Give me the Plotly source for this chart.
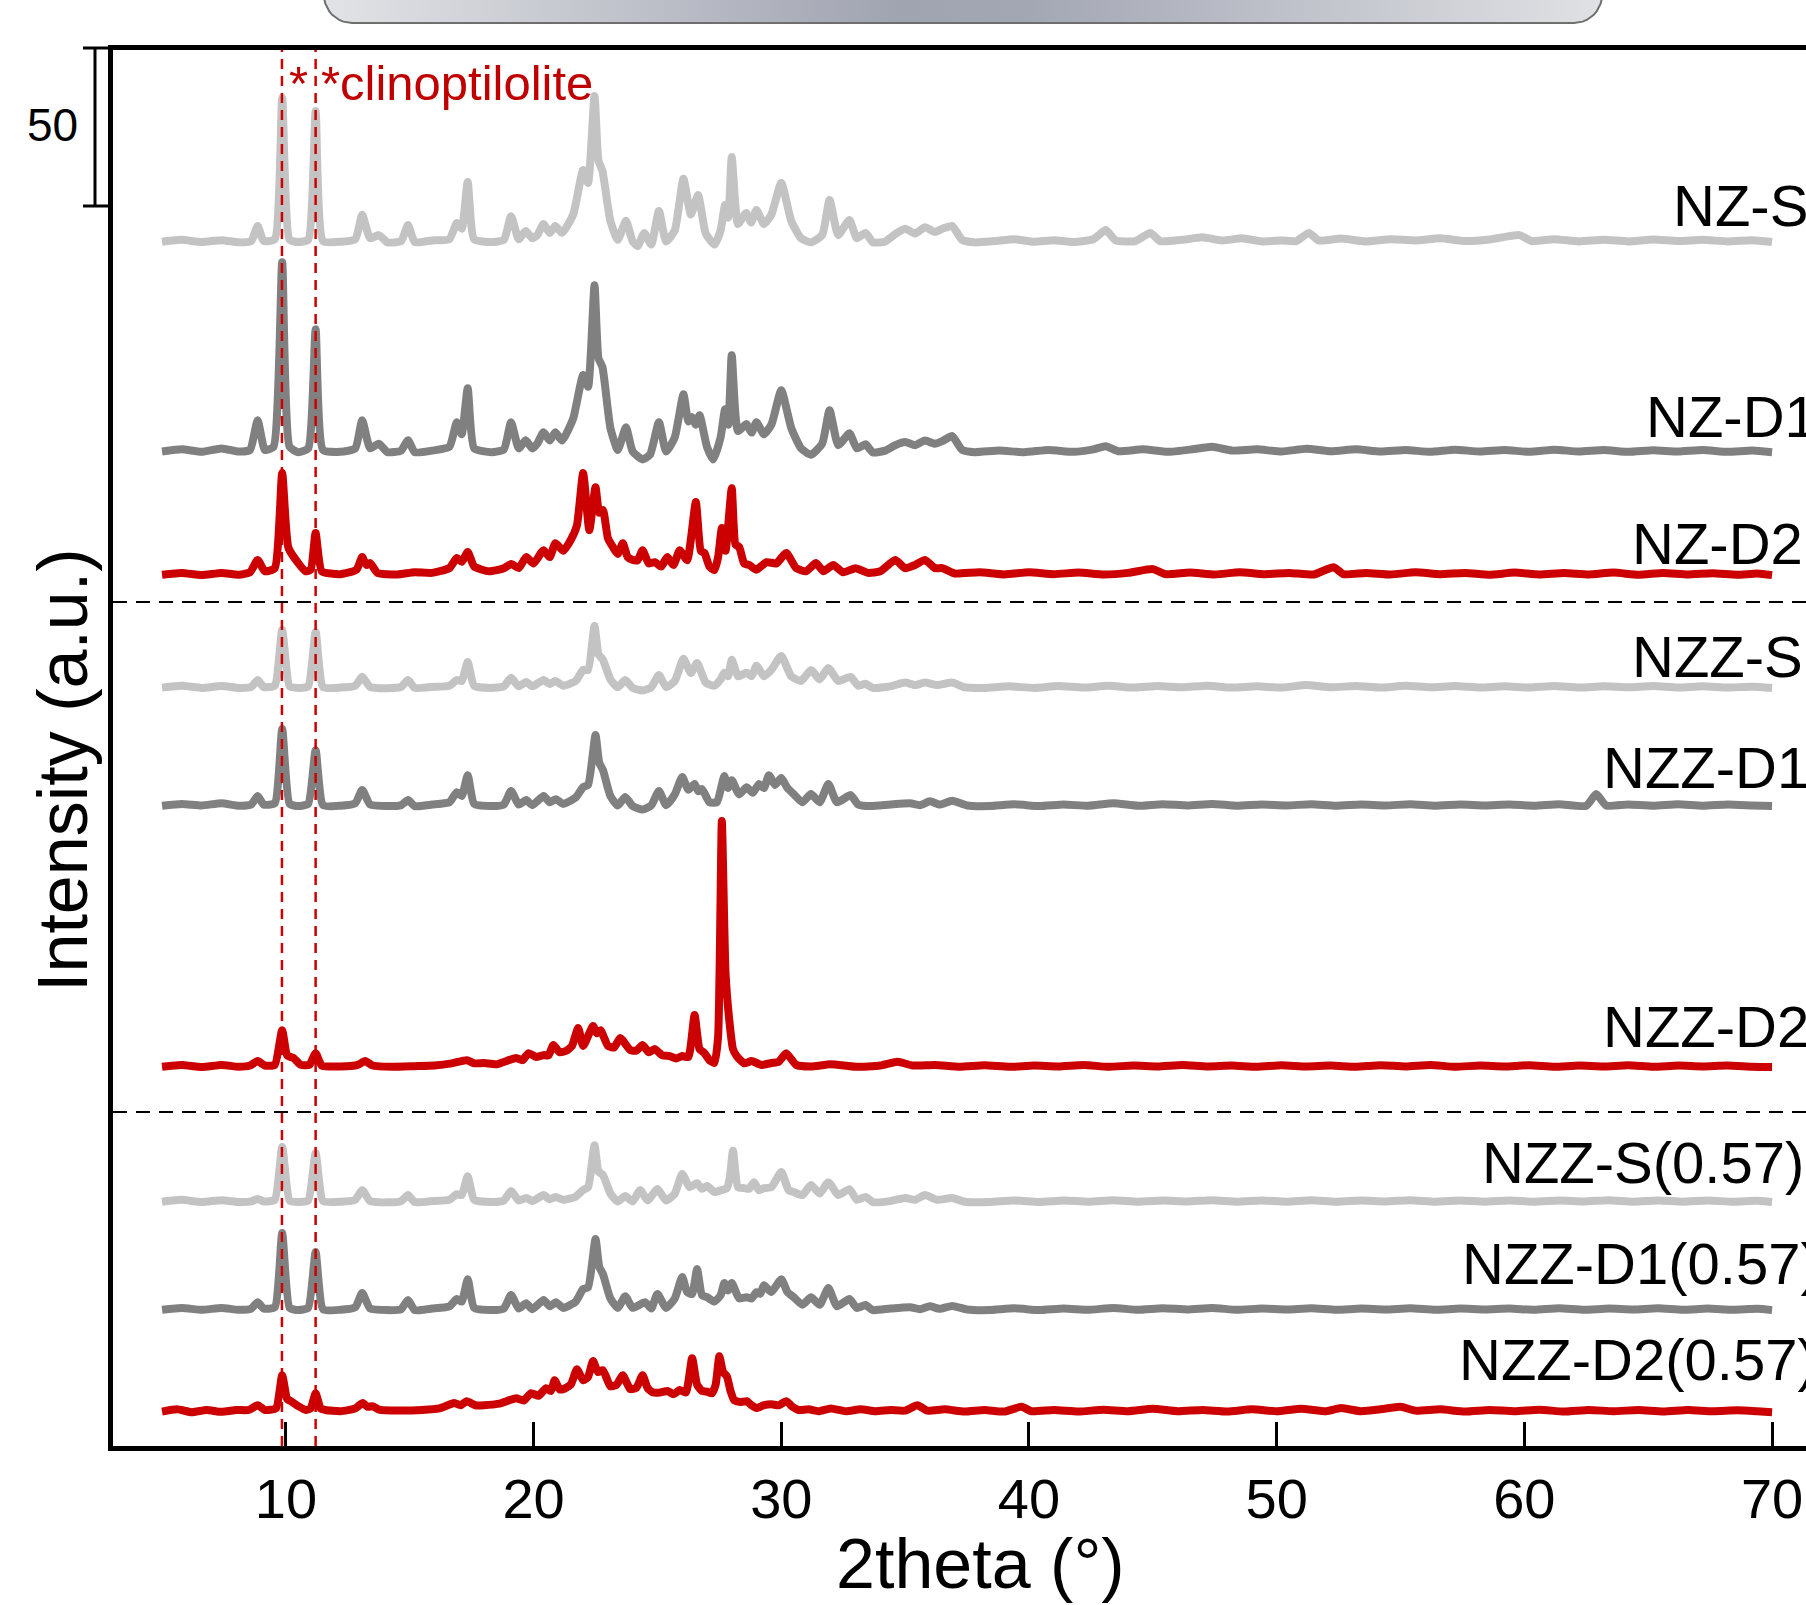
import math
import plotly.graph_objects as go

# ---------------- data (2theta in degrees, intensity in a.u.; scale bar = 50) ----------------
TICKS_2THETA = [10, 20, 30, 40, 50, 60, 70]
SAMPLE_LABELS = ["NZ-S", "NZ-D1", "NZ-D2", "NZZ-S", "NZZ-D1", "NZZ-D2",
                 "NZZ-S(0.57)", "NZZ-D1(0.57)", "NZZ-D2(0.57)"]
STACK_OFFSETS = [380.7, 314.2, 275.3, 239.6, 202.2, 119.6, 76.9, 42.7, 10.4]
GROUP_SEPARATORS = [267.1, 105.7]
CLINO_REF_2THETA = [9.84, 11.2]
SCALE_BAR_VALUE = 50

NZ_S = [(5.0,0.4),(5.8,1.0),(6.6,0.3),(7.4,0.9),(8.1,0.2),(8.6,0.6),(8.86,5.4),(9.1,0.6),(9.55,1.2),(9.85,45.9),(10.15,1.0),(10.5,0.3),(10.9,1.0),(11.2,41.8),(11.5,0.6),(12.2,0.4),(12.8,1.2),(13.08,8.9),(13.4,1.5),(13.75,2.5),(14.1,0.2),(14.65,0.6),(14.93,5.7),(15.2,0.3),(15.9,0.8),(16.6,1.2),(16.9,6.3),(17.1,4.5),(17.34,19.3),(17.6,1.2),(18.3,0.3),(18.8,1.0),(19.09,8.5),(19.4,1.2),(19.68,3.8),(19.95,1.5),(20.15,2.5),(20.4,6.0),(20.65,3.2),(20.88,5.4),(21.15,3.2),(21.6,9),(22.0,23.1),(22.2,19),(22.46,46.5),(22.62,26),(22.78,22.8),(23.1,7),(23.4,1.0),(23.73,7.0),(24.0,0.5),(24.2,-1),(24.47,3.2),(24.75,-0.5),(25.06,10.1),(25.35,0.5),(25.7,4),(26.05,20.3),(26.35,9),(26.64,15.2),(26.95,3),(27.3,-0.5),(27.55,4),(27.73,12.0),(27.86,8),(28.0,27.2),(28.25,6),(28.58,9.5),(28.78,6.5),(29.0,10.4),(29.3,6),(29.6,9),(30.0,19.0),(30.4,7),(30.8,1.5),(31.2,0.2),(31.65,2.5),(31.95,13.6),(32.3,2.5),(32.75,7.3),(33.05,1.5),(33.4,3.2),(33.7,0.2),(34.2,0.5),(34.6,2.8),(35.0,4.5),(35.4,3),(35.8,5),(36.2,3.5),(36.5,4.5),(36.9,5.4),(37.3,1.0),(37.8,0.2),(38.6,0.6),(39.4,1.2),(40.2,0.4),(41.0,0.9),(41.8,0.3),(42.6,1.2),(43.1,4.1),(43.5,0.8),(44.3,0.6),(44.9,3.2),(45.3,0.6),(46.2,1.0),(47.0,1.8),(47.8,0.8),(48.6,1.5),(49.4,0.5),(50.2,0.8),(50.8,0.6),(51.3,3.2),(51.7,0.8),(52.6,1.4),(53.6,0.5),(54.6,1.2),(55.6,0.8),(56.6,1.5),(57.6,0.6),(58.6,1.1),(59.8,2.5),(60.3,0.6),(61.2,1.2),(62.2,0.5),(63.2,1.0),(64.2,0.5),(65.2,1.1),(66.2,0.6),(67.2,1.0),(68.2,0.5),(69.2,0.9),(70.0,0.3)]

NZ_D1 = [(5.0,0.5),(5.8,1.2),(6.6,0.4),(7.4,1.5),(8.1,0.5),(8.55,1.0),(8.86,10.4),(9.15,1.0),(9.5,2),(9.85,60.4),(10.15,2),(10.5,0.3),(10.9,1.5),(11.2,39.2),(11.5,1.0),(12.2,0.4),(12.8,1.5),(13.08,10.4),(13.4,1.5),(13.75,3),(14.1,0.3),(14.65,0.8),(14.93,4.1),(15.2,0.3),(15.9,0.8),(16.6,2),(16.9,9.8),(17.1,6),(17.34,20.5),(17.6,1.5),(18.3,0.3),(18.8,1.2),(19.09,9.8),(19.4,1.5),(19.68,4.1),(19.95,1.5),(20.15,3),(20.4,6.6),(20.65,4),(20.88,6.6),(21.15,4),(21.6,11),(22.0,24.7),(22.2,21),(22.46,53.1),(22.62,30),(22.78,27.2),(23.1,8),(23.4,1.0),(23.73,8.2),(24.0,0.5),(24.4,-2),(24.7,-0.5),(25.06,9.8),(25.35,0.5),(25.7,5),(26.05,18.6),(26.25,10),(26.4,11.4),(26.55,9),(26.7,12.0),(27.0,2),(27.25,-2),(27.55,5),(27.73,13.9),(27.86,9),(28.0,31.0),(28.25,7),(28.6,9.2),(28.8,6.5),(29.0,9.8),(29.3,6),(29.6,9),(30.0,19.9),(30.4,8),(30.8,1.5),(31.2,-0.5),(31.65,3),(31.95,13.6),(32.3,2.5),(32.75,6.3),(33.05,1.5),(33.4,2.8),(33.7,0.2),(34.2,0.8),(34.6,2.5),(35.0,3.5),(35.4,2.5),(35.8,4),(36.2,3),(36.5,3.8),(36.9,5.4),(37.3,1.0),(37.8,0.3),(38.8,0.8),(39.8,0.3),(40.8,1.0),(41.8,0.4),(42.6,1.2),(43.1,2.2),(43.6,0.6),(44.6,1.2),(45.6,0.4),(46.6,1.2),(47.4,2),(48.2,0.8),(49.2,1.2),(50.2,0.5),(51.2,1.4),(52.2,0.6),(53.2,1.2),(54.2,0.5),(55.2,1.0),(56.2,0.4),(57.2,1.1),(58.2,0.5),(59.2,1.0),(60.2,0.4),(61.2,1.1),(62.2,0.5),(63.2,1.0),(64.2,0.4),(65.2,0.9),(66.2,0.5),(67.2,1.0),(68.2,0.4),(69.2,0.8),(70.0,0.3)]

NZ_D2 = [(5.0,0.4),(5.8,1.0),(6.6,0.3),(7.4,1.0),(8.1,0.4),(8.55,1.2),(8.86,5.1),(9.15,1.5),(9.55,2.5),(9.85,32.6),(10.1,9),(10.5,4.1),(10.8,1.5),(11.0,2),(11.2,13.6),(11.45,1.5),(12.2,0.6),(12.85,2),(13.08,6.0),(13.25,3.5),(13.4,4.1),(13.7,1.0),(14.5,0.5),(15.2,1.2),(15.9,1.0),(16.6,2.5),(16.9,5.7),(17.1,4.5),(17.34,7.6),(17.6,3),(18.2,1.5),(18.8,2.5),(19.1,3.8),(19.4,2.5),(19.7,6.0),(20.0,4),(20.4,8.2),(20.65,6),(20.88,10.4),(21.2,8),(21.5,11.4),(21.75,16),(22.0,32.6),(22.25,14.5),(22.5,28.1),(22.65,20),(22.8,20.9),(23.0,12),(23.2,9.2),(23.4,7),(23.6,10.4),(23.8,6),(24.0,5.1),(24.2,5),(24.4,8.2),(24.65,4),(24.9,4.4),(25.15,3),(25.4,6.0),(25.65,3.5),(25.9,8.2),(26.2,5),(26.55,23.4),(26.75,8),(26.9,7.3),(27.1,3),(27.3,1.9),(27.45,6),(27.6,15.2),(27.75,8),(28.0,27.8),(28.15,10),(28.3,9.2),(28.5,4),(28.7,3.5),(29.0,2),(29.4,4.4),(29.8,4),(30.2,7.3),(30.6,2.5),(31.0,1.5),(31.4,4.1),(31.7,1.5),(32.1,3.5),(32.5,1.2),(33.0,2.5),(33.5,1.0),(34.0,1.5),(34.6,5.1),(35.0,2.5),(35.4,3.5),(35.8,5.1),(36.2,2.5),(36.5,2.5),(37.0,0.8),(38.0,1.2),(39.0,0.5),(40.0,1.2),(41.0,0.6),(42.0,1.1),(43.0,0.5),(44.0,1.0),(45.0,2.2),(45.5,0.6),(46.5,1.1),(47.5,0.5),(48.5,1.2),(49.5,0.6),(50.5,1.0),(51.5,0.5),(52.3,2.8),(52.7,0.6),(53.6,1.0),(54.6,0.5),(55.6,1.2),(56.6,0.6),(57.6,1.0),(58.6,0.4),(59.6,1.1),(60.6,0.5),(61.6,1.0),(62.6,0.5),(63.6,1.1),(64.6,0.4),(65.6,1.0),(66.6,0.5),(67.6,0.9),(68.6,0.4),(69.4,0.8),(70.0,0.3)]

NZZ_S = [(5.0,0.4),(5.8,1.0),(6.6,0.3),(7.4,0.9),(8.1,0.3),(8.6,0.6),(8.86,2.8),(9.1,0.6),(9.55,1.0),(9.85,18.7),(10.15,0.8),(10.5,0.3),(10.9,0.8),(11.2,18.0),(11.5,0.6),(12.2,0.4),(12.8,1.0),(13.08,3.8),(13.4,0.6),(14.1,0.2),(14.65,0.6),(14.93,2.8),(15.2,0.3),(15.9,0.6),(16.6,1.0),(16.9,2.8),(17.1,2.5),(17.34,8.5),(17.6,1.0),(18.3,0.3),(18.8,0.8),(19.09,3.5),(19.4,0.8),(19.7,2.2),(19.95,0.8),(20.4,2.8),(20.65,1.5),(20.88,2.5),(21.2,1.0),(21.7,2.5),(22.0,6.0),(22.2,6),(22.46,19.9),(22.62,11),(22.8,9.2),(23.1,3),(23.4,0.5),(23.7,2.8),(24.0,0.3),(24.4,-0.5),(24.75,0.5),(25.06,4.4),(25.35,0.6),(25.7,2.5),(26.05,9.5),(26.35,5),(26.6,8.2),(26.95,2),(27.3,1.0),(27.55,3),(27.7,5.1),(27.85,4),(28.0,9.2),(28.25,4),(28.6,5.1),(28.8,4),(29.0,7.3),(29.3,4),(29.6,6),(30.0,10.4),(30.4,4),(30.8,2.5),(31.2,6.0),(31.55,3),(31.9,6.6),(32.3,2.5),(32.8,3.8),(33.1,1.0),(33.4,1.6),(33.7,0.3),(34.4,0.8),(35.0,2.0),(35.4,1.2),(35.8,2.0),(36.3,1.2),(36.9,2.0),(37.4,0.5),(38.2,0.3),(39.2,0.8),(40.2,0.3),(41.2,0.9),(42.2,0.4),(43.2,1.0),(44.2,0.4),(45.2,0.9),(46.2,0.5),(47.2,1.0),(48.2,0.4),(49.2,0.8),(50.2,0.4),(51.2,1.2),(52.2,0.5),(53.2,0.9),(54.2,0.4),(55.2,1.0),(56.2,0.5),(57.2,0.9),(58.2,0.4),(59.2,0.8),(60.2,0.4),(61.2,0.9),(62.2,0.4),(63.2,0.8),(64.2,0.5),(65.2,0.9),(66.2,0.4),(67.2,0.8),(68.2,0.4),(69.2,0.7),(70.0,0.3)]

NZZ_D1 = [(5.0,0.4),(5.8,1.0),(6.6,0.5),(7.4,1.2),(8.1,0.4),(8.6,0.8),(8.86,3.5),(9.1,0.8),(9.55,1.2),(9.85,24.7),(10.15,1.0),(10.5,0.3),(10.9,1.0),(11.2,18.0),(11.5,0.6),(12.2,0.4),(12.8,1.2),(13.08,5.4),(13.4,0.8),(14.1,0.3),(14.65,0.6),(14.93,2.2),(15.2,0.3),(15.9,0.8),(16.6,1.5),(16.9,4.7),(17.1,3.5),(17.34,10.1),(17.6,1.0),(18.3,0.3),(18.8,0.8),(19.09,5.1),(19.4,0.8),(19.7,2.2),(19.95,0.6),(20.4,3.5),(20.65,1.5),(20.9,2.5),(21.2,1.0),(21.7,3),(22.0,6.3),(22.2,7),(22.5,22.8),(22.65,14),(22.8,11.7),(23.1,3.5),(23.4,0.5),(23.7,3.2),(24.0,0.3),(24.4,-0.8),(24.75,0.5),(25.06,5.1),(25.35,0.6),(25.7,4),(26.0,9.5),(26.25,5.5),(26.5,7.3),(26.65,5),(26.8,5.7),(27.1,1.5),(27.4,1.5),(27.7,9.8),(27.85,6),(28.0,8.5),(28.3,4),(28.6,6.3),(28.85,4.5),(29.1,7.3),(29.3,6),(29.5,10.1),(29.75,7),(30.0,9.2),(30.25,6),(30.5,4.1),(30.85,1.5),(31.2,4.1),(31.55,1.5),(31.9,7.3),(32.25,1.5),(32.8,3.8),(33.1,0.8),(33.6,0.3),(34.4,0.8),(35.2,1.2),(35.6,0.6),(36.0,1.8),(36.4,0.8),(36.9,2.0),(37.5,0.5),(38.4,0.3),(39.4,0.9),(40.4,0.3),(41.4,0.8),(42.4,0.4),(43.4,1.2),(44.4,0.4),(45.4,0.9),(46.4,0.5),(47.4,1.0),(48.4,0.4),(49.4,0.8),(50.4,0.5),(51.4,0.9),(52.4,0.4),(53.4,0.8),(54.4,0.5),(55.4,0.9),(56.4,0.4),(57.4,0.8),(58.4,0.5),(59.4,0.8),(60.4,0.4),(61.4,0.9),(62.5,0.4),(62.9,4.1),(63.3,0.5),(64.2,0.8),(65.2,0.4),(66.2,0.9),(67.2,0.4),(68.2,0.8),(69.2,0.5),(70.0,0.3)]

NZZ_D2 = [(5.0,0.4),(5.8,1.0),(6.6,0.3),(7.4,1.0),(8.1,0.4),(8.55,0.8),(8.86,2.2),(9.15,0.8),(9.55,1.0),(9.85,12.0),(10.05,4),(10.3,3.2),(10.6,1.0),(10.95,1.0),(11.2,4.7),(11.45,0.8),(12.2,0.5),(12.9,1.0),(13.2,2.2),(13.5,0.8),(14.3,0.4),(15.2,0.6),(16.0,0.8),(16.7,1.5),(17.3,2.5),(17.6,1.5),(18.0,1.6),(18.5,1.2),(19.3,3.2),(19.55,2.5),(19.8,4.7),(20.1,3.5),(20.4,4.1),(20.6,4),(20.8,7.3),(21.05,5),(21.3,5.4),(21.55,7),(21.8,12.7),(22.0,7.0),(22.4,13.3),(22.55,11),(22.7,12.0),(23.0,7.0),(23.25,6.5),(23.5,9.5),(23.9,5.7),(24.15,5.5),(24.4,7.3),(24.65,5),(24.9,6.0),(25.2,4),(25.5,3.8),(25.75,3),(26.0,3.8),(26.25,3.5),(26.5,16.8),(26.7,6),(26.9,4.7),(27.1,2.5),(27.3,1.6),(27.45,10),(27.6,78.2),(27.75,30),(27.9,15.2),(28.05,6),(28.2,3.8),(28.5,1.5),(28.8,2.2),(29.2,1.0),(29.6,1.6),(29.9,2),(30.2,4.7),(30.6,1.0),(31.2,0.5),(32.0,1.2),(33.0,0.4),(34.0,0.8),(34.7,2.0),(35.3,0.8),(36.2,1.0),(37.2,0.4),(38.2,0.9),(39.2,0.4),(40.2,0.8),(41.2,0.5),(42.2,1.0),(43.2,0.4),(44.2,0.8),(45.2,0.5),(46.2,1.0),(47.2,0.5),(48.2,0.8),(49.2,0.4),(50.2,0.9),(51.2,0.5),(52.2,0.8),(53.2,0.4),(54.2,0.9),(55.2,0.5),(56.2,1.0),(57.2,0.4),(58.2,0.8),(59.2,0.5),(60.2,0.9),(61.2,0.4),(62.2,0.8),(63.2,0.5),(64.2,0.9),(65.2,0.4),(66.2,0.8),(67.2,0.5),(68.2,0.8),(69.2,0.4),(70.0,0.3)]

NZZ_S_057 = [(5.0,0.4),(5.8,1.0),(6.6,0.3),(7.4,0.9),(8.1,0.3),(8.6,0.5),(8.86,1.3),(9.1,0.5),(9.55,1.0),(9.85,17.7),(10.15,0.8),(10.5,0.3),(10.9,0.8),(11.2,15.8),(11.5,0.6),(12.2,0.4),(12.8,1.0),(13.08,4.1),(13.4,0.6),(14.1,0.2),(14.65,0.6),(14.93,2.5),(15.2,0.3),(15.9,0.6),(16.6,1.0),(16.9,2.8),(17.1,2.5),(17.34,8.5),(17.6,1.0),(18.3,0.3),(18.8,0.8),(19.09,3.8),(19.4,0.8),(19.7,1.6),(19.95,0.6),(20.4,2.5),(20.65,1.2),(20.9,1.9),(21.2,1.0),(21.7,2),(22.0,4.1),(22.2,5),(22.46,18.3),(22.62,10),(22.8,8.9),(23.1,3),(23.4,0.5),(23.7,2.2),(24.0,0.5),(24.3,4.1),(24.6,0.8),(25.0,4.4),(25.35,0.8),(25.7,3),(26.0,9.2),(26.3,5),(26.6,6.3),(26.8,4.5),(27.0,5.4),(27.3,3.5),(27.55,4),(27.8,4.7),(27.92,8),(28.05,16.5),(28.25,5),(28.5,4.7),(28.7,4.5),(28.9,6.6),(29.1,4),(29.3,4.7),(29.6,5),(30.0,9.8),(30.3,4),(30.5,3.5),(30.85,2.5),(31.2,5.7),(31.55,3),(31.9,6.6),(32.3,2.5),(32.75,4.4),(33.05,1.0),(33.4,1.9),(33.7,0.3),(34.4,0.6),(35.0,1.6),(35.4,1.0),(35.8,2.5),(36.3,1.0),(36.9,1.6),(37.4,0.4),(38.4,0.3),(39.4,0.8),(40.4,0.3),(41.4,0.8),(42.4,0.4),(43.4,0.9),(44.4,0.4),(45.4,0.8),(46.4,0.5),(47.4,0.9),(48.4,0.4),(49.4,0.8),(50.4,0.4),(51.4,0.9),(52.4,0.4),(53.4,0.8),(54.4,0.5),(55.4,0.9),(56.4,0.4),(57.4,0.8),(58.4,0.4),(59.4,0.8),(60.4,0.4),(61.4,0.8),(62.4,0.5),(63.4,0.9),(64.4,0.4),(65.4,0.8),(66.4,0.4),(67.4,0.8),(68.4,0.4),(69.4,0.7),(70.0,0.3)]

NZZ_D1_057 = [(5.0,0.4),(5.8,1.0),(6.6,0.4),(7.4,1.0),(8.1,0.4),(8.6,0.8),(8.86,2.8),(9.1,0.8),(9.55,1.2),(9.85,24.7),(10.15,1.0),(10.5,0.3),(10.9,1.0),(11.2,18.7),(11.5,0.6),(12.2,0.4),(12.8,1.2),(13.08,5.7),(13.4,0.8),(14.1,0.3),(14.65,0.6),(14.93,3.5),(15.2,0.3),(15.9,0.8),(16.6,1.5),(16.9,3.8),(17.1,3.0),(17.34,10.1),(17.6,1.0),(18.3,0.3),(18.8,0.8),(19.09,5.1),(19.4,0.8),(19.7,2.5),(19.95,0.6),(20.4,3.5),(20.65,1.5),(20.9,2.8),(21.2,1.0),(21.7,3),(22.0,7.0),(22.2,7.5),(22.5,22.8),(22.65,14),(22.8,11.7),(23.1,4),(23.4,1.0),(23.7,4.7),(24.0,1.0),(24.5,2.8),(24.75,0.8),(25.0,5.4),(25.35,1.0),(25.7,4),(26.0,10.8),(26.2,6),(26.4,5.4),(26.6,13.3),(26.8,5),(27.0,4.4),(27.3,3),(27.55,5),(27.7,8.9),(27.85,6.5),(28.0,8.9),(28.3,4),(28.6,4.4),(28.8,4),(29.0,6.0),(29.15,5.5),(29.3,8.2),(29.6,6),(30.0,10.1),(30.25,6),(30.5,4.4),(30.85,2),(31.2,4.4),(31.55,2),(31.9,7.3),(32.25,1.5),(32.75,3.8),(33.05,1.0),(33.4,1.9),(33.7,0.3),(34.4,0.8),(35.2,1.2),(35.6,0.6),(36.0,1.5),(36.4,0.7),(36.9,1.6),(37.5,0.5),(38.4,0.3),(39.4,0.9),(40.4,0.3),(41.4,0.8),(42.4,0.4),(43.4,1.0),(44.4,0.4),(45.4,0.9),(46.4,0.5),(47.4,1.0),(48.4,0.4),(49.4,0.8),(50.4,0.5),(51.4,0.9),(52.4,0.4),(53.4,0.8),(54.4,0.5),(55.4,0.9),(56.4,0.4),(57.4,0.8),(58.4,0.5),(59.4,0.8),(60.4,0.4),(61.4,0.9),(62.4,0.4),(63.4,0.8),(64.4,0.5),(65.4,0.9),(66.4,0.4),(67.4,0.8),(68.4,0.4),(69.4,0.7),(70.0,0.3)]

NZZ_D2_057 = [(5.0,0.5),(5.6,1.2),(6.2,0.3),(6.8,1.0),(7.4,0.4),(8.0,1.0),(8.5,1.0),(8.86,2.5),(9.15,1.0),(9.6,1.5),(9.85,12.0),(10.05,4.5),(10.2,3.8),(10.5,2.2),(10.8,1.0),(11.0,1.5),(11.2,6.3),(11.4,1.5),(11.6,1.0),(12.2,0.6),(12.8,1.5),(13.1,3.2),(13.3,2),(13.5,2.2),(13.8,1.0),(14.6,0.8),(15.5,1.0),(16.2,1.5),(16.8,3.2),(17.05,2.5),(17.3,3.8),(17.65,2.5),(18.0,2.5),(18.6,3),(19.3,4.7),(19.6,4),(19.9,6.3),(20.2,5.5),(20.5,7.9),(20.7,7),(20.85,10.4),(21.05,7.5),(21.2,7.6),(21.5,9),(21.75,13.9),(22.0,10.4),(22.2,11.5),(22.4,16.5),(22.6,13),(22.8,13.6),(23.1,8.5),(23.35,9),(23.6,12.0),(23.9,7.6),(24.15,8),(24.4,12.0),(24.6,8),(24.8,6.6),(25.1,6.5),(25.4,7.0),(25.65,6),(25.9,7.3),(26.15,6.5),(26.4,17.4),(26.6,9),(26.8,7.0),(27.0,6.8),(27.2,6.3),(27.35,9),(27.5,18.0),(27.65,13),(27.8,11.7),(27.95,7),(28.1,4.1),(28.35,3.5),(28.6,3.8),(28.8,2.5),(29.0,1.6),(29.3,2.5),(29.6,2.8),(29.9,2.5),(30.2,3.8),(30.45,2),(30.7,1.0),(31.1,1.2),(31.5,0.6),(32.0,1.5),(32.6,0.6),(33.2,1.2),(33.8,0.6),(34.4,1.0),(35.0,0.8),(35.5,2.5),(35.9,0.8),(36.6,1.2),(37.4,0.5),(38.2,1.0),(39.0,0.5),(39.7,2.0),(40.1,0.6),(41.0,1.0),(42.0,0.5),(43.0,1.1),(44.0,0.6),(45.0,1.4),(46.0,0.6),(47.0,1.0),(48.0,0.5),(49.0,1.2),(50.0,0.6),(51.0,1.4),(52.0,0.6),(52.6,1.6),(53.4,0.6),(54.2,1.2),(55.0,2.0),(55.6,0.8),(56.6,1.2),(57.6,0.5),(58.6,1.0),(59.6,0.6),(60.6,1.1),(61.6,0.5),(62.6,1.0),(63.6,0.6),(64.6,1.0),(65.6,0.5),(66.6,1.0),(67.6,0.6),(68.6,0.9),(69.4,0.6),(70.0,0.3)]

PATTERNS = [NZ_S, NZ_D1, NZ_D2, NZZ_S, NZZ_D1, NZZ_D2, NZZ_S_057, NZZ_D1_057, NZZ_D2_057]

# ---------------- styling / layout constants ----------------
LIGHT, DARK, RED = "#c3c3c3", "#808080", "#cc0000"
COLORS = [LIGHT, DARK, RED, LIGHT, DARK, RED, LIGHT, DARK, RED]
FONT = "Liberation Sans, Arial, sans-serif"

W, H = 1806, 1605
L = 113          # left edge of plot area (px)
B = 1446         # bottom of plot area (px)
TOP = 50         # top of plot area (px)
PX_PER_UNIT = 158 / SCALE_BAR_VALUE
X_RANGE = [3.02, 71.37]
Y_TOP = (B - TOP) / PX_PER_UNIT


def pxx(px):
    return (px - L) / (W - L)


def pxy(py):
    return (B - py) / B


# label anchor positions in pixels (left x, visual centre y)
LABEL_POS = [(1671, 205), (1644, 417), (1630, 543), (1630, 656), (1601, 767),
             (1601, 1027), (1480, 1162), (1460, 1263), (1457, 1359)]

fig = go.Figure()

for pts, off, col, name in zip(PATTERNS, STACK_OFFSETS, COLORS, SAMPLE_LABELS):
    fig.add_trace(go.Scatter(
        x=[p[0] for p in pts], y=[p[1] + off for p in pts],
        mode="lines", name=name, showlegend=False,
        line=dict(color=col, width=8, shape="spline", smoothing=0.5),
        xaxis="x", yaxis="y",
    ))

# decorative header box (cropped panel title bar), in pixel coordinates
bx0, bx1, by, r = 324, 1602, 23, 28
cy = by - r
box_x, box_y = [bx0, bx0], [-30, cy]
for i in range(11):
    t = math.pi - (math.pi / 2) * i / 10
    box_x.append(bx0 + r + r * math.cos(t))
    box_y.append(cy + r * math.sin(t))
for i in range(11):
    t = (math.pi / 2) - (math.pi / 2) * i / 10
    box_x.append(bx1 - r + r * math.cos(t))
    box_y.append(cy + r * math.sin(t))
box_x += [bx1, bx0]
box_y += [-30, -30]
fig.add_trace(go.Scatter(
    x=box_x, y=box_y, mode="lines", fill="toself", showlegend=False,
    line=dict(color="#6e6e6e", width=2),
    fillgradient=dict(type="horizontal",
                      colorscale=[[0, "#e2e3e6"], [0.45, "#a0a4b1"], [0.55, "#a3a7b4"], [1, "#e0e1e4"]]),
    xaxis="x2", yaxis="y2", hoverinfo="skip",
))

shapes = []
for ys in GROUP_SEPARATORS:
    shapes.append(dict(type="line", xref="x domain", yref="y", x0=0, x1=1, y0=ys, y1=ys,
                       line=dict(color="black", width=2, dash="14px,9px"), layer="above"))
for xv in CLINO_REF_2THETA:
    shapes.append(dict(type="line", xref="x", yref="y domain", x0=xv, x1=xv, y0=0, y1=1,
                       line=dict(color=RED, width=2.5, dash="10px,7px"), layer="above"))
# scale bar
shapes.append(dict(type="line", xref="paper", yref="paper", x0=pxx(95), x1=pxx(95),
                   y0=pxy(48), y1=pxy(206), line=dict(color="black", width=3)))
for yy in (48, 206):
    shapes.append(dict(type="line", xref="paper", yref="paper", x0=pxx(83), x1=pxx(109),
                       y0=pxy(yy), y1=pxy(yy), line=dict(color="black", width=3)))

annotations = []
for (lx, ly), name in zip(LABEL_POS, SAMPLE_LABELS):
    annotations.append(dict(text=name, xref="paper", yref="paper", x=pxx(lx), y=pxy(ly),
                            xanchor="left", yanchor="middle", showarrow=False,
                            font=dict(family=FONT, size=58, color="black")))
annotations.append(dict(text=str(SCALE_BAR_VALUE), xref="paper", yref="paper", x=pxx(53), y=pxy(125),
                        xanchor="center", yanchor="middle", showarrow=False,
                        font=dict(family=FONT, size=46, color="black")))
annotations.append(dict(text="*", xref="paper", yref="paper", x=pxx(287), y=pxy(83),
                        xanchor="left", yanchor="middle", showarrow=False,
                        font=dict(family=FONT, size=49, color="#c00000")))
annotations.append(dict(text="*clinoptilolite", xref="paper", yref="paper", x=pxx(319), y=pxy(83),
                        xanchor="left", yanchor="middle", showarrow=False,
                        font=dict(family=FONT, size=49, color="#c00000")))
annotations.append(dict(text="2theta (°)", xref="paper", yref="paper", x=pxx(980), y=pxy(1564),
                        xanchor="center", yanchor="middle", showarrow=False,
                        font=dict(family=FONT, size=70, color="black")))
annotations.append(dict(text="Intensity (a.u.)", xref="paper", yref="paper", x=pxx(63), y=pxy(770),
                        xanchor="center", yanchor="middle", showarrow=False, textangle=-90,
                        font=dict(family=FONT, size=70, color="black")))

fig.update_layout(
    width=W, height=H,
    margin=dict(l=L, r=0, t=0, b=H - B, pad=0),
    paper_bgcolor="white", plot_bgcolor="rgba(0,0,0,0)",
    showlegend=False,
    xaxis=dict(domain=[0, 1], range=X_RANGE, anchor="y",
               showline=True, linewidth=5, linecolor="black", mirror=True,
               ticks="inside", ticklen=24, tickwidth=3, tickcolor="black",
               tickvals=TICKS_2THETA, ticktext=[str(t) for t in TICKS_2THETA],
               tickfont=dict(family=FONT, size=56, color="black"),
               showgrid=False, zeroline=False),
    yaxis=dict(domain=[0, (B - TOP) / B], range=[0, Y_TOP], anchor="x",
               showline=True, linewidth=5, linecolor="black",
               ticks="", showticklabels=False, showgrid=False, zeroline=False),
    xaxis2=dict(domain=[0, 1], range=[L, W], anchor="y2", visible=False),
    yaxis2=dict(domain=[0, 1], range=[B, 0], anchor="x2", visible=False),
    shapes=shapes,
    annotations=annotations,
)

# remove the default 8px page margin so the figure fills the window exactly
fig.write_html("out.html", config={"displayModeBar": False},
               post_script="document.body.style.margin='0px';")
